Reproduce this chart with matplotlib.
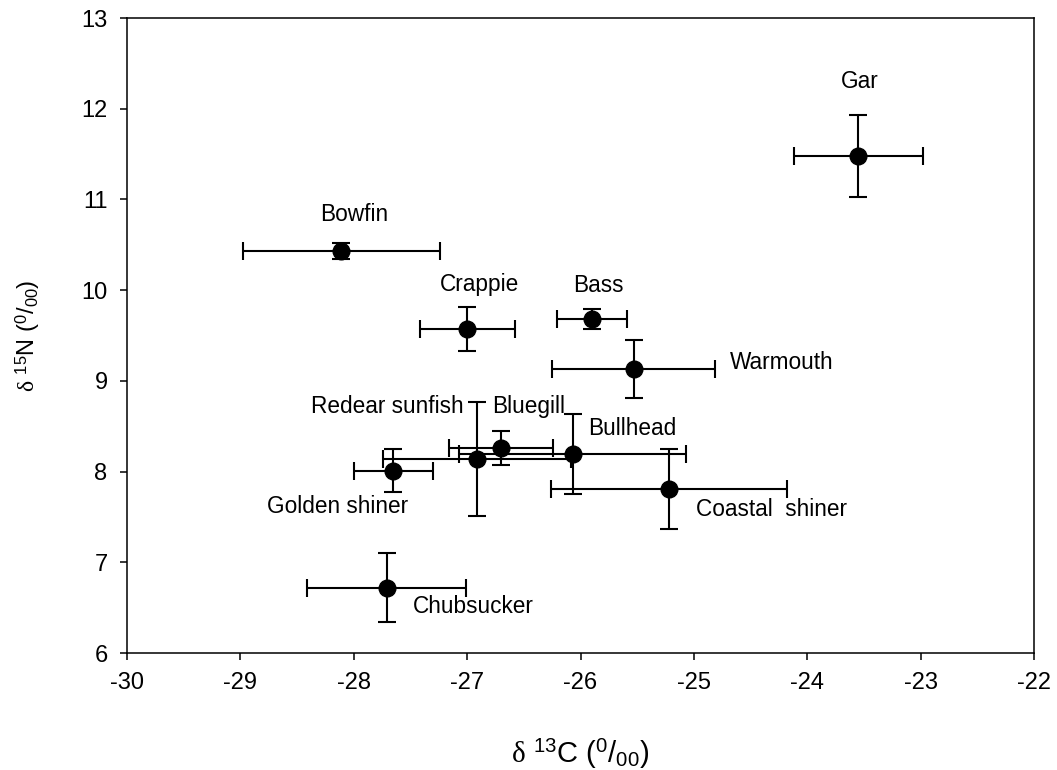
import numpy as np
import matplotlib
matplotlib.use('Agg')
import matplotlib.pyplot as plt

plt.rcParams['font.family'] = ['Liberation Sans', 'DejaVu Sans']
plt.rcParams['axes.unicode_minus'] = False
plt.rcParams['mathtext.fontset'] = 'custom'
plt.rcParams['mathtext.it'] = 'Liberation Serif'
plt.rcParams['mathtext.rm'] = 'Liberation Serif'
plt.rcParams['mathtext.sf'] = 'Liberation Sans'

# fish species, mean d13C / d15N with error
species = ['Gar', 'Bowfin', 'Crappie', 'Bass', 'Warmouth', 'Redear sunfish',
           'Bluegill', 'Bullhead', 'Golden shiner', 'Coastal  shiner', 'Chubsucker']
d13c = [-23.55, -28.11, -27.00, -25.90, -25.53, -26.91, -26.70, -26.07, -27.65, -25.22, -27.71]
d13c_err = [0.57, 0.87, 0.42, 0.31, 0.72, 0.83, 0.46, 1.00, 0.35, 1.04, 0.70]
d15n = [11.48, 10.43, 9.57, 9.68, 9.13, 8.14, 8.26, 8.19, 8.01, 7.81, 6.72]
d15n_err = [0.45, 0.09, 0.24, 0.11, 0.32, 0.63, 0.19, 0.44, 0.24, 0.44, 0.38]

# label anchor positions (data units) and alignment
lab_x = [-23.54, -28.00, -26.89, -25.84, -24.68, -27.03, -26.78, -25.93, -28.14, -24.98, -27.48]
lab_y = [12.30, 10.83, 10.06, 10.05, 9.20, 8.72, 8.72, 8.47, 7.61, 7.58, 6.51]
lab_ha = ['center', 'center', 'center', 'center', 'left', 'right',
          'left', 'left', 'center', 'left', 'left']

fig = plt.figure(figsize=(10.57, 7.70), dpi=100)
ax = fig.add_axes([0.1202, 0.1519, 0.858, 0.8247])

ax.errorbar(d13c, d15n, xerr=d13c_err, yerr=d15n_err, fmt='o', color='black',
            ms=12, elinewidth=1.5, capsize=6.5, capthick=1.5)

for i in range(len(species)):
    ax.text(lab_x[i], lab_y[i], species[i], ha=lab_ha[i], va='center', fontsize=16.3)

ax.set_xlim(-30, -22)
ax.set_ylim(6, 13)
ax.set_xticks(np.arange(-30, -21, 1))
ax.set_yticks(np.arange(6, 14, 1))
ax.tick_params(direction='out', length=5, width=1.1, labelsize=17, pad=9,
               top=False, right=False)
for s in ax.spines.values():
    s.set_linewidth(1.1)

ax.set_xlabel(r'$\delta$ $^{\mathsf{13}}$C ($^{\mathsf{0}}$/$_{\mathsf{00}}$)', fontsize=21, labelpad=31)
ax.set_ylabel(r'$\delta$ $^{\mathsf{15}}$N ($^{\mathsf{0}}$/$_{\mathsf{00}}$)', fontsize=17, labelpad=28)

fig.savefig('out.png', dpi=100)
